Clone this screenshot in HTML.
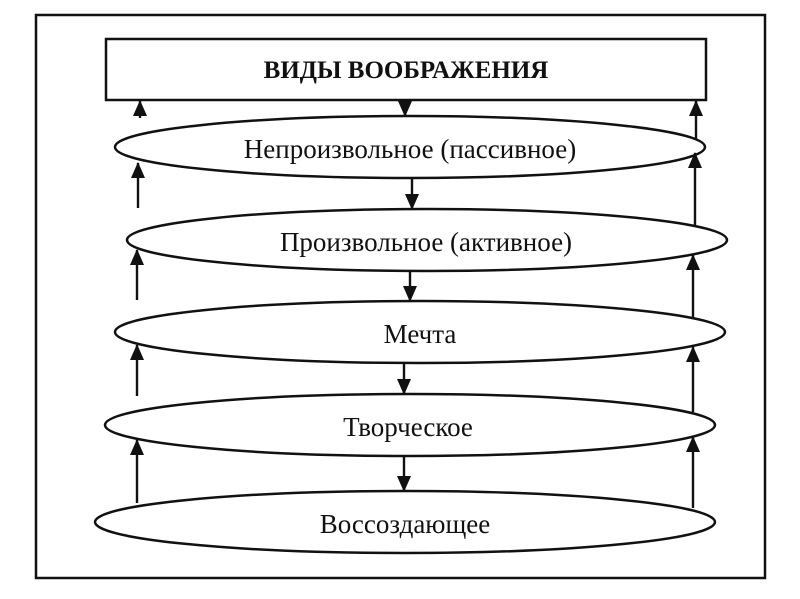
<!DOCTYPE html>
<html><head><meta charset="utf-8"><style>
html,body{margin:0;padding:0;background:#fff;}
svg{display:block;}
text{font-family:"Liberation Serif",serif;fill:#111;}
</style></head><body>
<svg width="800" height="599" viewBox="0 0 800 599" xmlns="http://www.w3.org/2000/svg">
<defs>
<marker id="a" markerWidth="16" markerHeight="14" refX="15" refY="7" orient="auto" markerUnits="userSpaceOnUse">
<path d="M0,0 L16,7 L0,14 z" fill="#111"/>
</marker>
</defs>
<g stroke="#111" stroke-width="2.5" fill="none">
<rect x="36" y="15" width="729" height="563"/>
<rect x="106" y="39" width="600" height="61" fill="#fff"/>
<ellipse cx="410" cy="147" rx="295" ry="31" fill="#fff"/>
<ellipse cx="427" cy="240" rx="300" ry="31" fill="#fff"/>
<ellipse cx="420" cy="332" rx="305" ry="31" fill="#fff"/>
<ellipse cx="410" cy="425" rx="305" ry="31" fill="#fff"/>
<ellipse cx="405" cy="522" rx="310" ry="31" fill="#fff"/>
</g>
<g stroke="#111" stroke-width="2.4" marker-end="url(#a)">
<line x1="140" y1="118" x2="140" y2="101"/>
<line x1="138" y1="208" x2="138" y2="163"/>
<line x1="137" y1="300" x2="137" y2="250"/>
<line x1="137" y1="396" x2="137" y2="345"/>
<line x1="137" y1="503" x2="137" y2="440"/>
<line x1="696" y1="140" x2="696" y2="101"/>
<line x1="695" y1="226" x2="695" y2="153"/>
<line x1="693" y1="318" x2="693" y2="255"/>
<line x1="693" y1="412" x2="693" y2="347"/>
<line x1="693" y1="508" x2="693" y2="437"/>
<line x1="405" y1="100" x2="405" y2="116"/>
<line x1="412" y1="178" x2="412" y2="209"/>
<line x1="410" y1="271" x2="410" y2="301"/>
<line x1="404" y1="363" x2="404" y2="394"/>
<line x1="404" y1="456" x2="404" y2="491"/>
</g>
<text x="406" y="78" text-anchor="middle" font-size="25" font-weight="bold">ВИДЫ ВООБРАЖЕНИЯ</text>
<text x="410" y="158" text-anchor="middle" font-size="27">Непроизвольное (пассивное)</text>
<text x="426" y="251" text-anchor="middle" font-size="27">Произвольное (активное)</text>
<text x="420" y="343" text-anchor="middle" font-size="27">Мечта</text>
<text x="408" y="436" text-anchor="middle" font-size="27">Творческое</text>
<text x="405" y="533" text-anchor="middle" font-size="27">Воссоздающее</text>
</svg>
</body></html>
